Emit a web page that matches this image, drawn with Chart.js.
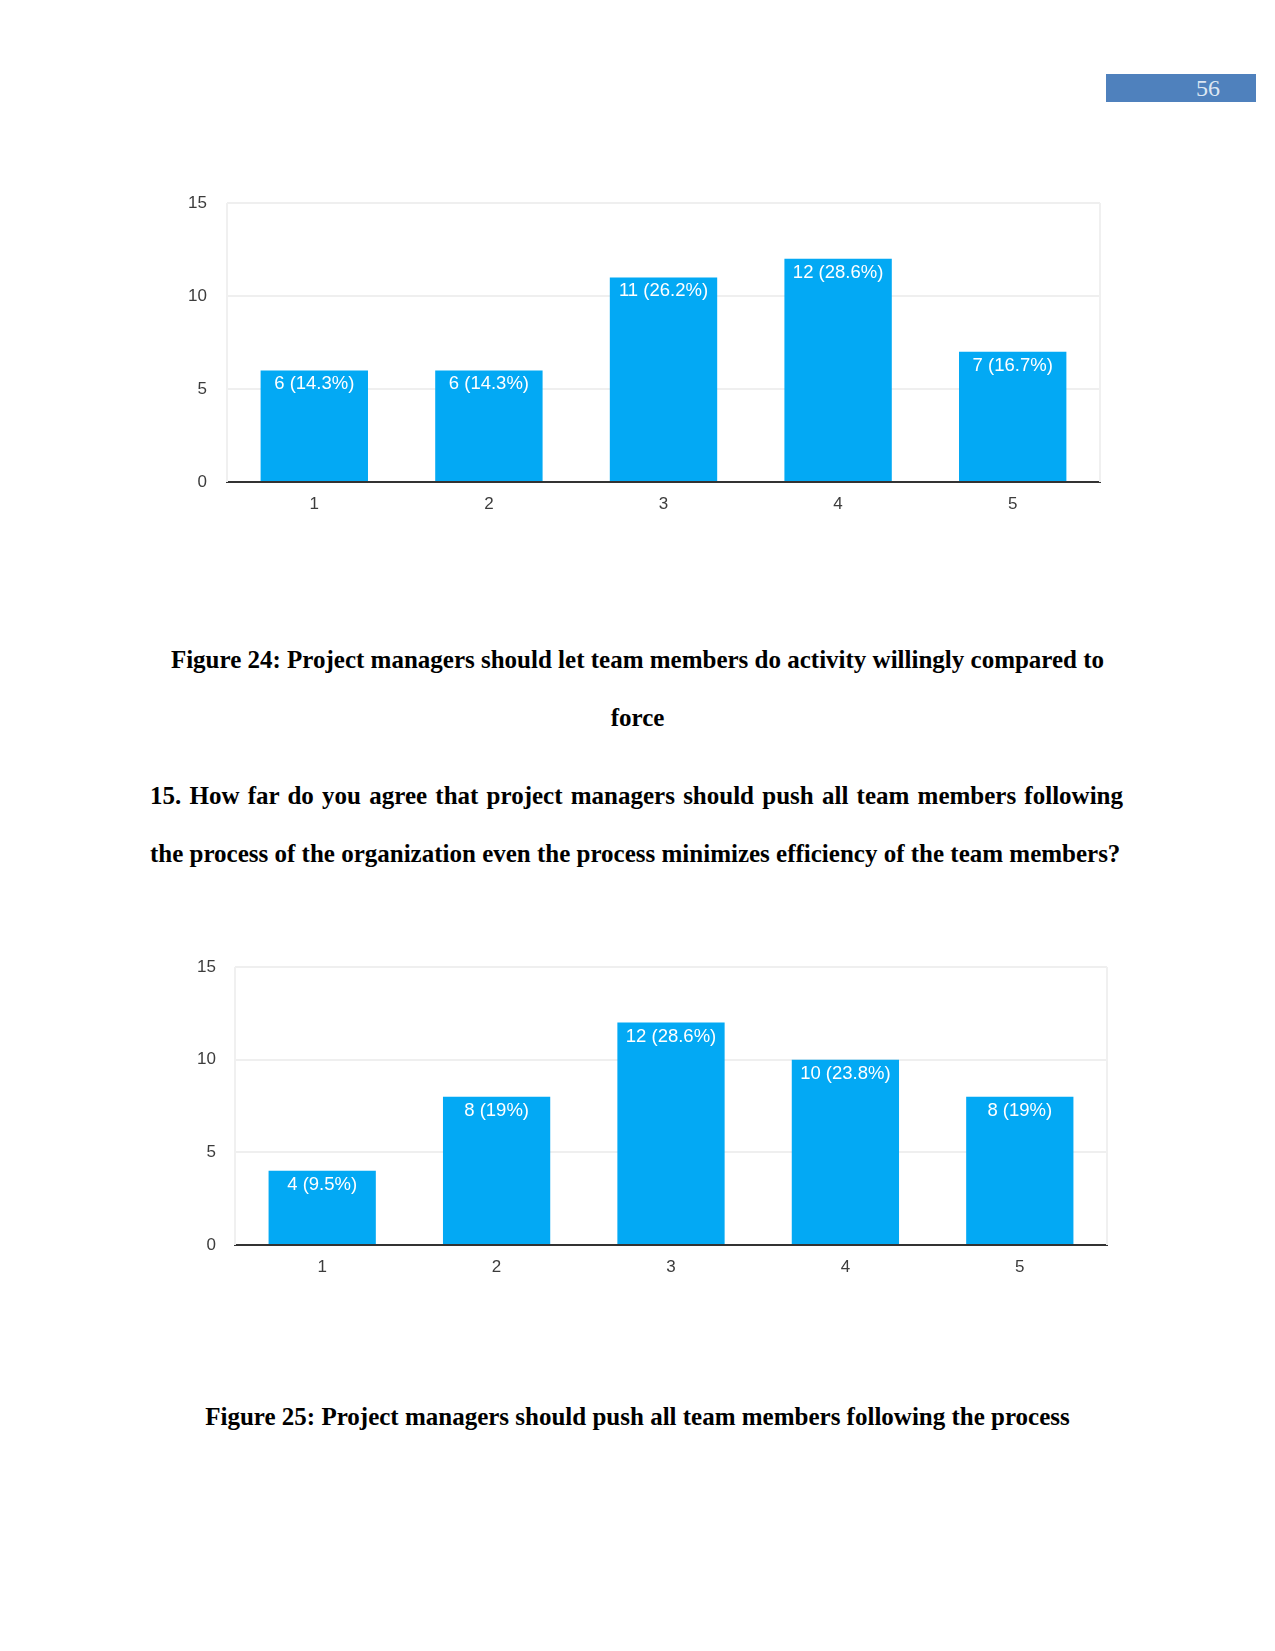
<!DOCTYPE html>
<html>
<head>
<meta charset="utf-8">
<script src="https://cdn.jsdelivr.net/npm/chart.js@4.4.1/dist/chart.umd.min.js"></script>
<style>
  body { margin: 0; background: #fff; }
  #page { position: relative; width: 1275px; height: 1651px; background: #fff; overflow: hidden; }
  .txt { position: absolute; font-family: "Liberation Serif", "Times New Roman", serif; font-weight: bold; font-size: 25px; line-height: 25px; color: #000; white-space: nowrap; }
  .center { left: 0; width: 1275px; text-align: center; }
  .box { position: absolute; }
  #pageNum { position: absolute; left: 1106px; top: 74px; width: 150px; height: 28px; background: #4f81bd; }
</style>
</head>
<body>
<div id="page">
  <div id="pageNum"></div>
  <div class="txt" style="left:1196px; top:76px; font-weight:normal; font-size:24px; line-height:24px; color:#dce6f2;">56</div>

  <div class="box" style="left:140px; top:171px; width:1000px; height:360px;"><canvas id="fig24"></canvas></div>

  <div class="txt center" style="top:647px;">Figure 24: Project managers should let team members do activity willingly compared to</div>
  <div class="txt center" style="top:705px;">force</div>
  <div class="txt" style="left:150px; top:783px; width:973px; white-space:normal; text-align:justify; text-align-last:justify;">15. How far do you agree that project managers should push all team members following</div>
  <div class="txt" style="left:150px; top:841px;">the process of the organization even the process minimizes efficiency of the team members?</div>

  <div class="box" style="left:140px; top:931px; width:1000px; height:360px;"><canvas id="fig25"></canvas></div>

  <div class="txt center" style="top:1404px;">Figure 25: Project managers should push all team members following the process</div>
</div>

<script>
const categories = ['1', '2', '3', '4', '5'];
const yTicks = [0, 5, 10, 15];

const fig24Counts = [6, 6, 11, 12, 7];
const fig24Percents = ['14.3%', '14.3%', '26.2%', '28.6%', '16.7%'];

const fig25Counts = [4, 8, 12, 10, 8];
const fig25Percents = ['9.5%', '19%', '28.6%', '23.8%', '19%'];

// white "n (p%)" labels inside the top of each bar
const barLabels = {
  id: 'barLabels',
  afterDatasetsDraw(chart, args, opts) {
    const ctx = chart.ctx;
    const meta = chart.getDatasetMeta(0);
    ctx.save();
    ctx.fillStyle = '#ffffff';
    ctx.font = '18.5px "Liberation Sans", Arial, sans-serif';
    ctx.textAlign = 'center';
    ctx.textBaseline = 'middle';
    meta.data.forEach((bar, i) => {
      const v = chart.data.datasets[0].data[i];
      ctx.fillText(v + ' (' + opts.percents[i] + ')', bar.x, bar.y + opts.offset);
    });
    ctx.restore();
  }
};

// faint frame on the left and right of the plot
const plotFrame = {
  id: 'plotFrame',
  beforeDatasetsDraw(chart) {
    const a = chart.chartArea;
    const ctx = chart.ctx;
    ctx.save();
    ctx.strokeStyle = '#f0f0f0';
    ctx.lineWidth = 2;
    ctx.beginPath();
    ctx.moveTo(a.left, a.top);
    ctx.lineTo(a.left, a.bottom);
    ctx.moveTo(a.right, a.top);
    ctx.lineTo(a.right, a.bottom);
    ctx.stroke();
    ctx.restore();
  }
};

function drawBars(id, counts, percents, lay) {
  return new Chart(id, {
    type: 'bar',
    data: {
      labels: categories,
      datasets: [{
        data: counts,
        backgroundColor: '#03a9f4',
        borderWidth: 0,
        barPercentage: 0.615,
        categoryPercentage: 1
      }]
    },
    plugins: [plotFrame, barLabels],
    options: {
      responsive: true,
      maintainAspectRatio: false,
      animation: false,
      layout: {
        padding: { top: lay.top, right: lay.right, bottom: 0, left: 0 }
      },
      plugins: {
        legend: { display: false },
        tooltip: { enabled: false },
        barLabels: { percents: percents, offset: lay.labelOffset }
      },
      scales: {
        x: {
          grid: { display: false, drawTicks: false },
          border: { display: true, color: '#333333', width: 2 },
          ticks: {
            color: '#3c3c3c',
            padding: lay.xPad,
            font: { family: '"Liberation Sans", Arial, sans-serif', size: 17 }
          },
          afterFit: (scale) => { scale.height = lay.xHeight; }
        },
        y: {
          min: 0,
          max: 15,
          afterBuildTicks: (scale) => { scale.ticks = yTicks.map(v => ({ value: v })); },
          grid: {
            drawTicks: false,
            lineWidth: 2,
            color: (c) => c.tick && c.tick.value === 0 ? 'rgba(0,0,0,0)' : '#efefef'
          },
          border: { display: false },
          ticks: {
            color: '#3c3c3c',
            padding: lay.yPad,
            font: { family: '"Liberation Sans", Arial, sans-serif', size: 17 }
          },
          afterFit: (scale) => { scale.width = lay.yWidth; }
        }
      }
    }
  });
}

drawBars('fig24', fig24Counts, fig24Percents,
  { top: 32, right: 40, yWidth: 87, xHeight: 49, yPad: 20, xPad: 12, labelOffset: 14 });
drawBars('fig25', fig25Counts, fig25Percents,
  { top: 36, right: 33, yWidth: 95, xHeight: 46, yPad: 19, xPad: 12, labelOffset: 14 });
</script>
</body>
</html>
